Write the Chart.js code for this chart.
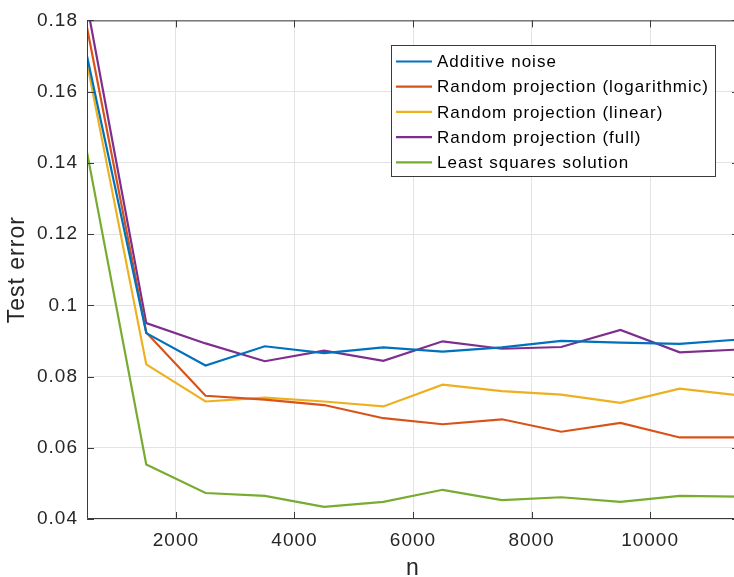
<!DOCTYPE html>
<html>
<head>
<meta charset="utf-8">
<script src="https://cdn.jsdelivr.net/npm/chart.js@4/dist/chart.umd.min.js"></script>
<style>
  html, body { margin: 0; padding: 0; background: #fff; overflow: hidden; width: 734px; height: 577px; }
  #c { position: absolute; left: 0; top: 0; }
</style>
</head>
<body>
<canvas id="c" width="742" height="577"></canvas>
<script>
// ---- data ----
const nValues = [500, 1500, 2500, 3500, 4500, 5500, 6500, 7500, 8500, 9500, 10500, 11500];
const additiveNoise = [0.170, 0.0922, 0.0831, 0.0885, 0.0866, 0.0882, 0.0870, 0.0882, 0.0900, 0.0895, 0.0892, 0.0904];
const randProjLog   = [0.178, 0.0924, 0.0746, 0.0735, 0.0720, 0.0683, 0.0666, 0.0680, 0.0645, 0.0670, 0.0629, 0.0629];
const randProjLin   = [0.168, 0.0834, 0.0730, 0.0741, 0.0730, 0.0716, 0.0777, 0.0759, 0.0749, 0.0726, 0.0766, 0.0747];
const randProjFull  = [0.1845, 0.0950, 0.0893, 0.0843, 0.0873, 0.0844, 0.0899, 0.0878, 0.0883, 0.0931, 0.0868, 0.0876];
const leastSquares  = [0.1430, 0.0553, 0.0473, 0.0465, 0.0434, 0.0448, 0.0482, 0.0453, 0.0461, 0.0448, 0.0465, 0.0463];
const seriesLabels = ['Additive noise', 'Random projection (logarithmic)', 'Random projection (linear)', 'Random projection (full)', 'Least squares solution'];
const xTickValues = [2000, 4000, 6000, 8000, 10000];
const yTickValues = [0.04, 0.06, 0.08, 0.10, 0.12, 0.14, 0.16, 0.18];

const colors = ['#0072BD', '#D95319', '#EDB120', '#7E2F8E', '#77AC30'];
const FONT = "'Liberation Sans', Arial, Helvetica, sans-serif";
const allSeries = [additiveNoise, randProjLog, randProjLin, randProjFull, leastSquares];

const datasets = allSeries.map((arr, i) => ({
  label: seriesLabels[i],
  data: nValues.map((n, k) => ({ x: n, y: arr[k] })),
  borderColor: colors[i],
  backgroundColor: colors[i],
  borderWidth: 2.2,
  pointRadius: 0,
  tension: 0,
  fill: false
}));

const AXIS_COLOR = '#3a3a3a';
const TICK_LEN = 7;

const spacingPlugin = {
  id: 'spacing',
  beforeDraw(chart) { chart.ctx.letterSpacing = '1px'; }
};

const framePlugin = {
  id: 'frame',
  afterDatasetsDraw(chart) {
    const ctx = chart.ctx;
    const a = chart.chartArea;
    const xs = chart.scales.x, ys = chart.scales.y;
    ctx.save();
    ctx.strokeStyle = AXIS_COLOR;
    ctx.lineWidth = 1;
    // frame
    ctx.beginPath();
    ctx.rect(a.left + 0.5, a.top + 0.5, a.right - a.left - 1, a.bottom - a.top - 1);
    ctx.stroke();
    // inward ticks
    ctx.beginPath();
    xTickValues.forEach(v => {
      const px = Math.round(xs.getPixelForValue(v)) + 0.5;
      ctx.moveTo(px, a.bottom); ctx.lineTo(px, a.bottom - TICK_LEN);
      ctx.moveTo(px, a.top); ctx.lineTo(px, a.top + TICK_LEN);
    });
    yTickValues.forEach(v => {
      const py = Math.round(ys.getPixelForValue(v)) + 0.5;
      ctx.moveTo(a.left, py); ctx.lineTo(a.left + TICK_LEN, py);
      ctx.moveTo(a.right, py); ctx.lineTo(a.right - TICK_LEN, py);
    });
    ctx.stroke();

    // legend box
    const bx = 391, by = 45, bw = 324, bh = 131;
    ctx.fillStyle = '#ffffff';
    ctx.fillRect(bx, by, bw, bh);
    ctx.strokeStyle = AXIS_COLOR;
    ctx.strokeRect(bx + 0.5, by + 0.5, bw, bh);
    ctx.font = '17px ' + FONT;
    ctx.letterSpacing = '1px';
    ctx.textBaseline = 'middle';
    ctx.textAlign = 'left';
    chart.data.datasets.forEach((ds, i) => {
      const y = 61.5 + i * 25.2;
      ctx.strokeStyle = ds.borderColor;
      ctx.lineWidth = 2.2;
      ctx.beginPath();
      ctx.moveTo(396, y); ctx.lineTo(432, y);
      ctx.stroke();
      ctx.fillStyle = '#000000';
      ctx.fillText(ds.label, 437, y + 1);
    });
    ctx.restore();
  }
};

new Chart(document.getElementById('c'), {
  type: 'line',
  data: { datasets },
  plugins: [spacingPlugin, framePlugin],
  options: {
    responsive: false,
    animation: false,
    devicePixelRatio: 1,
    layout: { padding: { left: 0, top: 19, right: 3, bottom: 0 } },
    plugins: { legend: { display: false }, tooltip: { enabled: false } },
    scales: {
      x: {
        type: 'linear',
        min: 500,
        max: 11500,
        afterBuildTicks(scale) { scale.ticks = xTickValues.map(v => ({ value: v })); },
        afterFit(scale) { scale.height = 58; },
        grid: { color: '#e3e3e3', lineWidth: 1, drawTicks: false },
        border: { display: false },
        ticks: {
          padding: 10,
          maxRotation: 0,
          autoSkip: false,
          color: '#262626',
          font: { family: FONT, size: 19 },
          callback: v => String(v)
        },
        title: {
          display: true,
          text: 'n',
          color: '#262626',
          font: { family: FONT, size: 23 },
          padding: { top: 0, bottom: -5 }
        }
      },
      y: {
        min: 0.04,
        max: 0.18,
        afterBuildTicks(scale) { scale.ticks = yTickValues.map(v => ({ value: v })); },
        afterFit(scale) { scale.width = 87; },
        grid: { color: '#e3e3e3', lineWidth: 1, drawTicks: false },
        border: { display: false },
        ticks: {
          padding: 9,
          autoSkip: false,
          color: '#262626',
          font: { family: FONT, size: 19 },
          callback: v => String(parseFloat(Number(v).toFixed(2)))
        },
        title: {
          display: true,
          text: 'Test error',
          color: '#262626',
          font: { family: FONT, size: 23 },
          padding: { top: 4, bottom: 0 }
        }
      }
    }
  }
});
</script>
</body>
</html>
